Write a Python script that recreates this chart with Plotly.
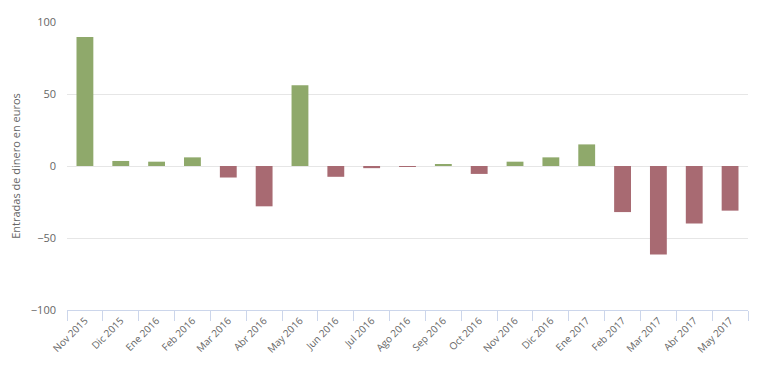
import plotly.graph_objects as go

months = ["Nov 2015", "Dic 2015", "Ene 2016", "Feb 2016", "Mar 2016", "Abr 2016",
          "May 2016", "Jun 2016", "Jul 2016", "Ago 2016", "Sep 2016", "Oct 2016",
          "Nov 2016", "Dic 2016", "Ene 2017", "Feb 2017", "Mar 2017", "Abr 2017",
          "May 2017"]
values = [89.5, 3.5, 3, 6, -8, -28, 56, -7.5, -1.5, -0.3, 1.2, -5.5,
          3, 6, 15, -32, -61.5, -40, -31]
y_ticks = [-100, -50, 0, 50, 100]

pos_color = "#8fa96b"
neg_color = "#a86a72"
colors = [pos_color if v >= 0 else neg_color for v in values]

fig = go.Figure(go.Bar(x=months, y=values, marker_color=colors,
                       marker_line_width=0, width=0.47))

fig.update_layout(
    width=756, height=379,
    margin=dict(l=59, r=16, t=14, b=77, autoexpand=False),
    plot_bgcolor="white", paper_bgcolor="white",
    showlegend=False,
    font=dict(family="Open Sans, Lato, sans-serif", size=11, color="#666666"),
    bargap=0.53,
)
fig.update_yaxes(
    range=[-100, 100], tickvals=y_ticks,
    gridcolor="#e6e6e6", gridwidth=1,
    zeroline=True, zerolinecolor="#e6e6e6", zerolinewidth=1,
    showline=False, automargin=False,
    title=dict(text="Entradas de dinero en euros", font=dict(size=11, color="#666666"), standoff=7),
    tickfont=dict(size=11, color="#666666"),
    ticklabelstandoff=10,
)
fig.update_xaxes(
    type="category", automargin=False,
    showline=True, linecolor="#ccd6eb", linewidth=1,
    ticks="outside", tickson="boundaries", tickcolor="#ccd6eb", ticklen=10,
    tickangle=-45, tickfont=dict(size=10, color="#666666"),
    showgrid=False,
)

fig.write_html("out.html")
